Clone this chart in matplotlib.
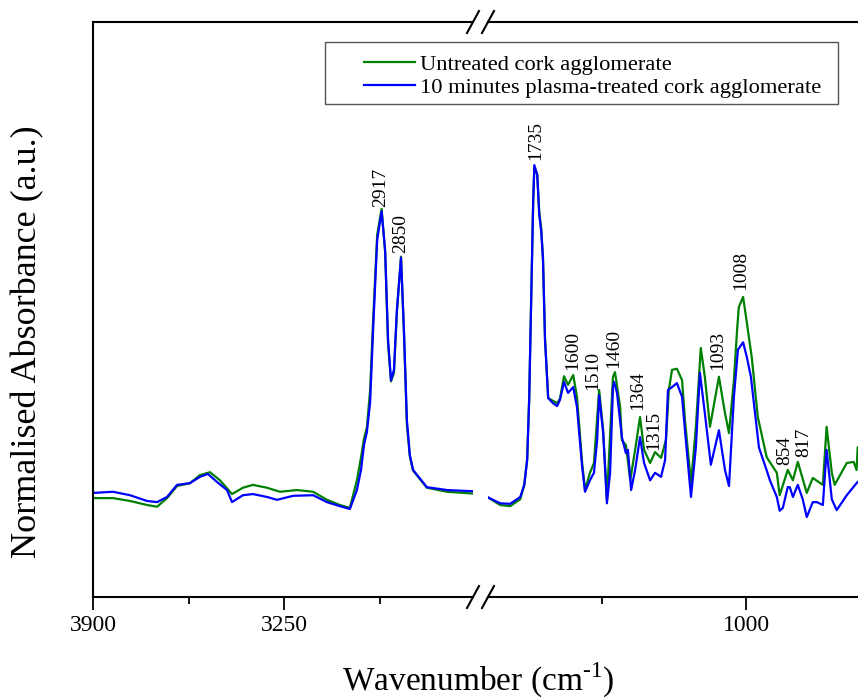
import matplotlib
matplotlib.use("Agg")
import matplotlib.pyplot as plt
from matplotlib.lines import Line2D
from matplotlib.patches import Rectangle

plt.rcParams["font.family"] = ["Liberation Serif", "DejaVu Serif"]
plt.rcParams["mathtext.fontset"] = "custom"
plt.rcParams["mathtext.rm"] = "Liberation Serif"

# ---- data (wavenumber in cm-1, normalised absorbance) ----
# high-wavenumber segment
wn_hi_untreated = [3900, 3832, 3774, 3716, 3682, 3648, 3614, 3570, 3536, 3502, 3468,
                   3427, 3390, 3356, 3308, 3264, 3206, 3151, 3104, 3060, 3026, 3002,
                   2988, 2978, 2968, 2957, 2947, 2933, 2918, 2906, 2896, 2886, 2876,
                   2866, 2852, 2842, 2832, 2822, 2811, 2764, 2695, 2610]
abs_hi_untreated = [0.172, 0.172, 0.167, 0.160, 0.157, 0.172, 0.193, 0.198, 0.212, 0.217, 0.203,
                    0.179, 0.190, 0.195, 0.190, 0.183, 0.186, 0.183, 0.169, 0.160, 0.155, 0.203,
                    0.243, 0.275, 0.295, 0.360, 0.480, 0.630, 0.675, 0.600, 0.440, 0.375, 0.390,
                    0.495, 0.592, 0.460, 0.300, 0.245, 0.220, 0.190, 0.183, 0.180]

wn_hi_plasma = [3900, 3832, 3774, 3716, 3682, 3648, 3614, 3570, 3536, 3509, 3478,
                3444, 3427, 3390, 3356, 3308, 3274, 3219, 3151, 3104, 3060, 3026, 3002,
                2988, 2978, 2968, 2957, 2947, 2933, 2918, 2906, 2896, 2886, 2876,
                2866, 2852, 2842, 2832, 2822, 2811, 2764, 2695, 2610]
abs_hi_plasma = [0.181, 0.183, 0.177, 0.167, 0.165, 0.174, 0.195, 0.198, 0.209, 0.214, 0.200,
                 0.186, 0.165, 0.177, 0.179, 0.174, 0.169, 0.176, 0.177, 0.165, 0.158, 0.153, 0.186,
                 0.221, 0.264, 0.287, 0.339, 0.464, 0.621, 0.671, 0.603, 0.447, 0.377, 0.395,
                 0.499, 0.590, 0.464, 0.308, 0.247, 0.221, 0.191, 0.186, 0.184]

# fingerprint segment
wn_lo_untreated = [1899, 1854, 1819, 1784, 1770, 1760, 1753, 1746, 1739, 1735, 1725, 1718,
                   1711, 1705, 1698, 1687, 1656, 1646, 1632, 1618, 1600, 1587, 1569, 1559,
                   1542, 1528, 1510, 1496, 1483, 1462, 1455, 1437, 1431, 1417, 1402, 1385,
                   1368, 1354, 1333, 1316, 1295, 1278, 1268, 1257, 1240, 1222, 1212, 1191,
                   1174, 1157, 1143, 1125, 1094, 1073, 1059, 1042, 1031, 1025, 1010, 997,
                   980, 959, 928, 893, 883, 855, 837, 820, 789, 768, 733, 720, 702, 692,
                   650, 626, 616, 612]
abs_lo_untreated = [0.174, 0.160, 0.158, 0.170, 0.195, 0.240, 0.345, 0.520, 0.690, 0.748, 0.735, 0.670,
                    0.640, 0.590, 0.450, 0.346, 0.337, 0.345, 0.384, 0.369, 0.386, 0.348, 0.233, 0.186,
                    0.216, 0.233, 0.360, 0.290, 0.169, 0.383, 0.391, 0.330, 0.273, 0.264, 0.203, 0.256,
                    0.313, 0.256, 0.233, 0.252, 0.242, 0.273, 0.360, 0.395, 0.397, 0.377, 0.308, 0.198,
                    0.296, 0.433, 0.383, 0.296, 0.383, 0.320, 0.285, 0.377, 0.464, 0.504, 0.522, 0.477,
                    0.417, 0.313, 0.243, 0.216, 0.177, 0.221, 0.203, 0.235, 0.181, 0.207, 0.195, 0.296,
                    0.216, 0.195, 0.233, 0.235, 0.221, 0.260]

wn_lo_plasma = [1899, 1854, 1819, 1784, 1770, 1760, 1753, 1746, 1739, 1735, 1725, 1718,
                1711, 1705, 1698, 1687, 1670, 1656, 1646, 1632, 1618, 1600, 1587, 1569,
                1559, 1542, 1528, 1517, 1510, 1496, 1483, 1472, 1462, 1458, 1448, 1431,
                1417, 1410, 1399, 1385, 1368, 1354, 1333, 1316, 1295, 1281, 1271, 1257,
                1240, 1222, 1212, 1191, 1174, 1160, 1143, 1122, 1094, 1073, 1059, 1042,
                1028, 1010, 997, 983, 955, 928, 917, 893, 883, 872, 855, 848, 837, 820,
                803, 789, 768, 754, 733, 720, 702, 685, 650, 616, 612]
abs_lo_plasma = [0.174, 0.163, 0.162, 0.174, 0.195, 0.238, 0.343, 0.517, 0.690, 0.751, 0.734, 0.664,
                 0.635, 0.586, 0.447, 0.346, 0.337, 0.332, 0.343, 0.374, 0.355, 0.365, 0.330, 0.226,
                 0.183, 0.203, 0.216, 0.273, 0.351, 0.285, 0.163, 0.216, 0.365, 0.374, 0.355, 0.278,
                 0.250, 0.256, 0.186, 0.221, 0.278, 0.233, 0.203, 0.216, 0.209, 0.238, 0.360, 0.365,
                 0.372, 0.348, 0.290, 0.174, 0.261, 0.390, 0.320, 0.230, 0.290, 0.221, 0.193, 0.348,
                 0.430, 0.443, 0.417, 0.383, 0.260, 0.220, 0.203, 0.174, 0.150, 0.155, 0.191, 0.191,
                 0.174, 0.195, 0.170, 0.139, 0.165, 0.165, 0.160, 0.256, 0.170, 0.151, 0.177, 0.198,
                 0.200]

# band labels: (wavenumber position, label bottom height)
bands_hi = [(2920, 0.678, "2917"), (2852, 0.598, "2850")]
bands_lo = [(1732, 0.760, "1735"), (1601, 0.395, "1600"), (1531, 0.360, "1510"),
            (1458, 0.398, "1460"), (1375, 0.325, "1364"), (1321, 0.256, "1315"),
            (1098, 0.395, "1093"), (1018, 0.534, "1008"), (864, 0.230, "854"),
            (801, 0.243, "817")]

GREEN = "#008000"
BLUE = "#0000ff"

W, H = 858, 699
fig = plt.figure(figsize=(W / 100, H / 100), dpi=100)
bottom = (H - 597) / H
height = 575 / H
ax1 = fig.add_axes([93 / W, bottom, (473 - 93) / W, height])
ax2 = fig.add_axes([488 / W, bottom, (858 - 488) / W, height])

for ax in (ax1, ax2):
    ax.set_ylim(0, 1)
    ax.set_yticks([])
    for s in ax.spines.values():
        s.set_linewidth(1.5)
    ax.tick_params(axis="x", which="major", direction="out", length=9, width=1.3,
                   labelsize=17, pad=4)
    ax.tick_params(axis="x", which="minor", direction="out", length=5, width=1.3)

ax1.plot(wn_hi_untreated, abs_hi_untreated, color=GREEN, lw=1.6)
ax1.plot(wn_hi_plasma, abs_hi_plasma, color=BLUE, lw=1.6)
ax2.plot(wn_lo_untreated, abs_lo_untreated, color=GREEN, lw=1.6)
ax2.plot(wn_lo_plasma, abs_lo_plasma, color=BLUE, lw=1.6)

ax1.set_xlim(3900, 2607)
ax1.set_xticks([3900, 3250])
ax1.set_xticks([3575, 2925], minor=True)
ax1.spines["right"].set_visible(False)

ax2.set_xlim(1896, 611)
ax2.set_xticks([1000])
ax2.set_xticks([1500], minor=True)
ax2.spines["left"].set_visible(False)
ax2.spines["right"].set_visible(False)

for x, y, lab in bands_hi:
    ax1.text(x, y, lab, rotation=90, ha="center", va="bottom", fontsize=14)
for x, y, lab in bands_lo:
    ax2.text(x, y, lab, rotation=90, ha="center", va="bottom", fontsize=14)

# axis break marks
for xc in (473, 488):
    for yc in (22, 597):
        fig.add_artist(Line2D([(xc - 6) / W, (xc + 6) / W],
                              [1 - (yc + 11) / H, 1 - (yc - 11) / H],
                              color="black", lw=1.5))

# legend
fig.add_artist(Rectangle((325 / W, 1 - 104 / H), (838 - 325) / W, (104 - 42) / H,
                         transform=fig.transFigure, fill=False, edgecolor="#555555", lw=1.0))
handles = [Line2D([], [], color=GREEN, lw=1.6), Line2D([], [], color=BLUE, lw=1.6)]
fig.legend(handles, ["Untreated cork agglomerate",
                     "10 minutes plasma-treated cork agglomerate"],
           loc="upper left", bbox_to_anchor=(364 / W, 1 - 54 / H), frameon=False,
           fontsize=16.2, handlelength=2.25, handletextpad=0.25, labelspacing=0.1,
           borderpad=0, borderaxespad=0)

fig.text(28 / W, 1 - 342 / H, "Normalised Absorbance (a.u.)", rotation=90,
         ha="center", va="center", fontsize=26)
fig.text(478 / W, 1 - 680 / H, r"Wavenumber (cm$^{\text{-}1}$)",
         ha="center", va="center", fontsize=24)

fig.savefig("out.png", dpi=100)
